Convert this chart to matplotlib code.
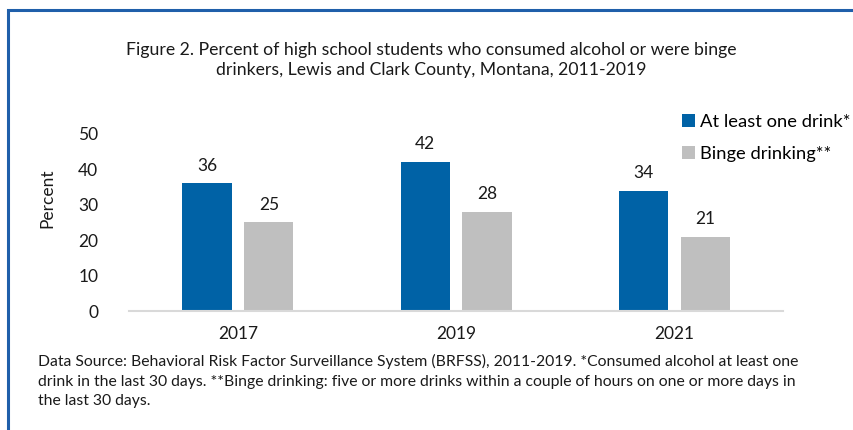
import matplotlib
matplotlib.use('Agg')
import matplotlib.pyplot as plt
import matplotlib.patches as mpatches
import numpy as np

plt.rcParams['font.family'] = ['Lato', 'DejaVu Sans']

# Datos
years = ['2017', '2019', '2021']
at_least_one = [36, 42, 34]
binge = [25, 28, 21]
series_names = ['At least one drink*', 'Binge drinking**']

title = ('Figure 2. Percent of high school students who consumed alcohol or were binge\n'
         'drinkers, Lewis and Clark County, Montana, 2011-2019')
footer = ('Data Source: Behavioral Risk Factor Surveillance System (BRFSS), 2011-2019. *Consumed alcohol at least one\n'
          'drink in the last 30 days. **Binge drinking: five or more drinks within a couple of hours on one or more days in\n'
          'the last 30 days.')

blue = '#0062A6'
gray = '#BFBFBF'

fig = plt.figure(figsize=(8.54, 4.30), dpi=100)
ax = fig.add_axes([0.151, 0.2767, 0.766, 0.412])

x = np.arange(len(years))
w = 0.225
b1 = ax.bar(x - 0.142, at_least_one, width=w, color=blue, label=series_names[0])
b2 = ax.bar(x + 0.142, binge, width=w, color=gray, label=series_names[1])

# Etiquetas sobre las barras
for bars in (b1, b2):
    for r in bars:
        ax.text(r.get_x() + r.get_width() / 2, r.get_height() + 5.0, f'{r.get_height():.0f}',
                ha='center', va='center', fontsize=12.5, color='#1a1a1a')

ax.set_xlim(-0.5, 2.5)
ax.set_ylim(0, 50)
ax.set_yticks([0, 10, 20, 30, 40, 50])
ax.set_xticks(x)
ax.set_xticklabels(years)
ax.tick_params(axis='both', length=0, labelsize=12.5, colors='#1a1a1a')
ax.tick_params(axis='y', pad=22)
ax.tick_params(axis='x', pad=11)
for s in ['top', 'right', 'left']:
    ax.spines[s].set_visible(False)
ax.spines['bottom'].set_color('#D9D9D9')
ax.spines['bottom'].set_linewidth(1.5)

fig.text(47 / 854, 1 - 198 / 430, 'Percent', rotation=90, ha='center', va='center',
         fontsize=12.5, color='#1a1a1a')

fig.text(0.505, 1 - 60 / 430, title, ha='center', va='center', fontsize=12.7,
         color='#1a1a1a', linespacing=1.25)

fig.legend(handles=[b1, b2], loc='upper left', bbox_to_anchor=(682 / 854, 1 - 114 / 430),
           frameon=False, fontsize=13.2, handlelength=0.7, handleheight=0.7,
           handletextpad=0.3, labelspacing=0.85, borderpad=0, borderaxespad=0)

fig.text(38 / 854, 1 - 381 / 430, footer, ha='left', va='center', fontsize=11.3,
         color='#1a1a1a', linespacing=1.5)

# Marco azul
frame = mpatches.Rectangle((8 / 854, -0.2), 1.5, 1 - 10 / 430 + 0.2, transform=fig.transFigure,
                           fill=False, edgecolor='#1F5FAA', linewidth=2.2, clip_on=False)
fig.patches.append(frame)

fig.savefig('out.png', dpi=100)
